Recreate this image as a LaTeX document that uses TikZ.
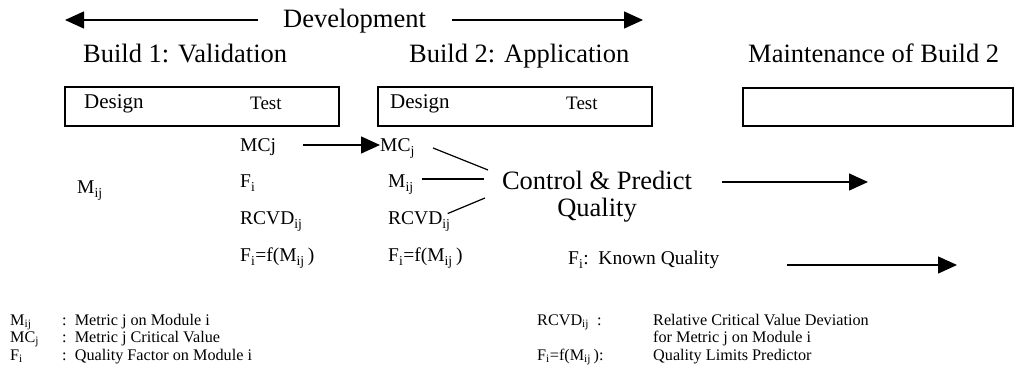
\documentclass[tikz,border=0pt]{standalone}
\usepackage{fontspec}
\setmainfont{Liberation Serif}
\usetikzlibrary{arrows.meta}
\newcommand\lo[1]{\textsubscript{#1}}
\tikzset{
  bigtxt/.style={font=\fontsize{26.5}{30}\selectfont, inner sep=0pt, anchor=base west},
  boxtxt/.style={font=\fontsize{21}{24}\selectfont, inner sep=0pt, anchor=base west},
  testtxt/.style={font=\fontsize{19}{22}\selectfont, inner sep=0pt, anchor=base west},
  lbl/.style={font=\fontsize{19.5}{22}\selectfont, inner sep=0pt, anchor=base west},
  leg/.style={font=\fontsize{16.2}{18}\selectfont, inner sep=0pt, anchor=base west},
  phase/.style={draw, line width=1.4pt, inner sep=0pt},
  flow/.style={line width=1.3pt, -{Triangle[length=19pt,width=17pt]}},
  link/.style={line width=1.2pt},
}
\begin{document}
\begin{tikzpicture}[x=1pt,y=-1pt]
\useasboundingbox (0,0) rectangle (1017,371);

% development span
\node[bigtxt] (dev) at (283,28) {Development};
\coordinate (devL) at (65,20);
\coordinate (devR) at (643,20);
\draw[flow] (258,20) -- (devL);
\draw[flow] (452,20) -- (devR);

% phase titles
\node[bigtxt] (b1) at (83,63) {Build 1: Validation};
\node[bigtxt] (b2) at (409,63) {Build 2: Application};
\node[bigtxt] (mt) at (748,63) {Maintenance of Build 2};

% phase boxes
\draw[phase] (65,87) rectangle (339,126);
\draw[phase] (378,87) rectangle (652,126);
\draw[phase] (743,88) rectangle (1013,126);
\node[boxtxt] (d1) at (84,109) {Design};
\node[testtxt] (t1) at (250,110) {Test};
\node[boxtxt] (d2) at (390,109) {Design};
\node[testtxt] (t2) at (566,110) {Test};

% build 1 quantities
\node[lbl] (m0) at (77,194) {M\lo{ij}};
\node[lbl] (mc1) at (240,152) {MCj};
\node[lbl] (f1) at (240,188) {F\lo{i}};
\node[lbl] (r1) at (240,225) {RCVD\lo{ij}};
\node[lbl] (p1) at (240,262) {F\lo{i}=f(M\lo{ij}\,)};

% build 2 quantities
\node[lbl] (mc2) at (380,152) {MC\lo{j}};
\node[lbl] (m2) at (388,188) {M\lo{ij}};
\node[lbl] (r2) at (388,225) {RCVD\lo{ij}};
\node[lbl] (p2) at (388,262) {F\lo{i}=f(M\lo{ij}\,)};

% control and prediction
\node[font=\fontsize{26.5}{27}\selectfont, align=center, inner sep=0pt] (cpq) at (597,197) {Control \& Predict\\Quality};
\node[lbl] (kq) at (568,265) {F\lo{i}:\ \ Known Quality};
\coordinate (cpqE) at (868,182);
\coordinate (kqE) at (957,265);
\coordinate (midrow) at (0,179);

\draw[flow] (303,145) -- (mc2.west |- 0,145);
\draw[link] (433,148) -- (488,170);
\draw[link] (m2.east |- midrow) ++(8,0) -- (484,179);
\draw[link] (r2.east) ++(-3,-8) -- (485,198);
\draw[flow] (722,182) -- (cpqE);
\draw[flow] (787,265) -- (kqE);

% legend
\node[leg] (lm) at (10,325) {M\lo{ij}};
\node[leg] (lmc) at (10,342) {MC\lo{j}};
\node[leg] (lf) at (10,360) {F\lo{i}};
\node[leg] (lmt) at (62,325) {:\ \ Metric j on Module i};
\node[leg] (lmct) at (62,342) {:\ \ Metric j Critical Value};
\node[leg] (lft) at (62,360) {:\ \ Quality Factor on Module i};
\node[leg] (lr) at (537,325) {RCVD\lo{ij}\ \ :};
\node[leg] (lp) at (537,360) {F\lo{i}=f(M\lo{ij}\,):};
\node[leg] (lrt) at (653,325) {Relative Critical Value Deviation};
\node[leg] (lrt2) at (653,342) {for Metric j on Module i};
\node[leg] (lpt) at (653,360) {Quality Limits Predictor};
\end{tikzpicture}
\end{document}
